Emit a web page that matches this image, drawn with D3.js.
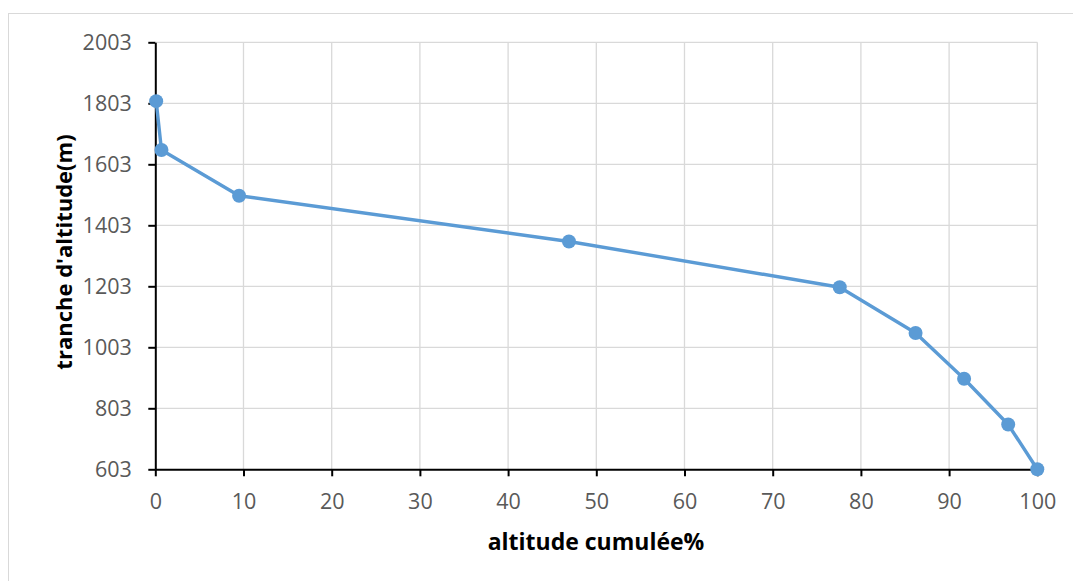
<!DOCTYPE html>
<html><head><meta charset="utf-8">
<script src="https://cdn.jsdelivr.net/npm/d3@7"></script>
<style>body{margin:0;background:#fff;}svg{display:block;font-family:"Open Sans",sans-serif;}</style>
</head><body>
<svg id="c" width="1073" height="581"></svg>
<script>
const cumulPct = [0.1, 0.7, 9.5, 46.9, 77.6, 86.2, 91.7, 96.7, 100];
const altitude = [1810, 1650, 1500, 1350, 1200, 1050, 900, 750, 603];
const xTicks = [0,10,20,30,40,50,60,70,80,90,100];
const yTicks = [603,803,1003,1203,1403,1603,1803,2003];
const xTitle = "altitude cumulée%";
const yTitle = "tranche d'altitude(m)";

const svg = d3.select("#c");
svg.append("rect").attr("x",8.5).attr("y",13.5).attr("width",1070).attr("height",580)
  .attr("fill","#fff").attr("stroke","#d9d9d9").attr("stroke-width",1);

const x = d3.scaleLinear().domain([0,100]).range([155.3,1037.3]);
const y = d3.scaleLinear().domain([603,2003]).range([469.3,42.3]);

// gridlines
svg.append("g").selectAll("line.v").data(xTicks.slice(1)).join("line")
  .attr("x1",d=>x(d)).attr("x2",d=>x(d)).attr("y1",y(2003)).attr("y2",y(603))
  .attr("stroke","#d9d9d9").attr("stroke-width",1.3);
svg.append("g").selectAll("line.h").data(yTicks.slice(1)).join("line")
  .attr("x1",x(0)).attr("x2",x(100)).attr("y1",d=>y(d)).attr("y2",d=>y(d))
  .attr("stroke","#d9d9d9").attr("stroke-width",1.3);

// axes
const xAxis = svg.append("g").attr("transform",`translate(0,${y(603)})`)
  .call(d3.axisBottom(x).tickValues(xTicks).tickSize(7).tickPadding(17).tickSizeOuter(0));
const yAxis = svg.append("g").attr("transform",`translate(${x(0)},0)`)
  .call(d3.axisLeft(y).tickValues(yTicks).tickFormat(d3.format("d")).tickSize(7).tickPadding(16.5).tickSizeOuter(0));
[xAxis,yAxis].forEach(a=>{
  a.select(".domain").attr("stroke","#000").attr("stroke-width",2);
  a.selectAll(".tick line").attr("stroke","#000").attr("stroke-width",2);
  a.selectAll(".tick text").attr("fill","#595959").style("font-size","21.5px").style("font-family","'Open Sans',sans-serif");
});

// line + markers
const pts = cumulPct.map((v,i)=>[v,altitude[i]]);
svg.append("path").datum(pts)
  .attr("d",d3.line().x(d=>x(d[0])).y(d=>y(d[1])))
  .attr("fill","none").attr("stroke","#5b9bd5").attr("stroke-width",3.4).attr("stroke-linejoin","round");
svg.append("g").selectAll("circle").data(pts).join("circle")
  .attr("cx",d=>x(d[0])).attr("cy",d=>y(d[1])).attr("r",7).attr("fill","#5b9bd5");

// titles
svg.append("text").attr("x",596).attr("y",550).attr("text-anchor","middle")
  .attr("font-weight","bold").attr("font-size","23px").attr("fill","#000").text(xTitle);
svg.append("text").attr("transform","translate(72,252) rotate(-90)").attr("text-anchor","middle")
  .attr("font-weight","bold").attr("font-size","22px").attr("fill","#000").text(yTitle);
</script>
</body></html>
